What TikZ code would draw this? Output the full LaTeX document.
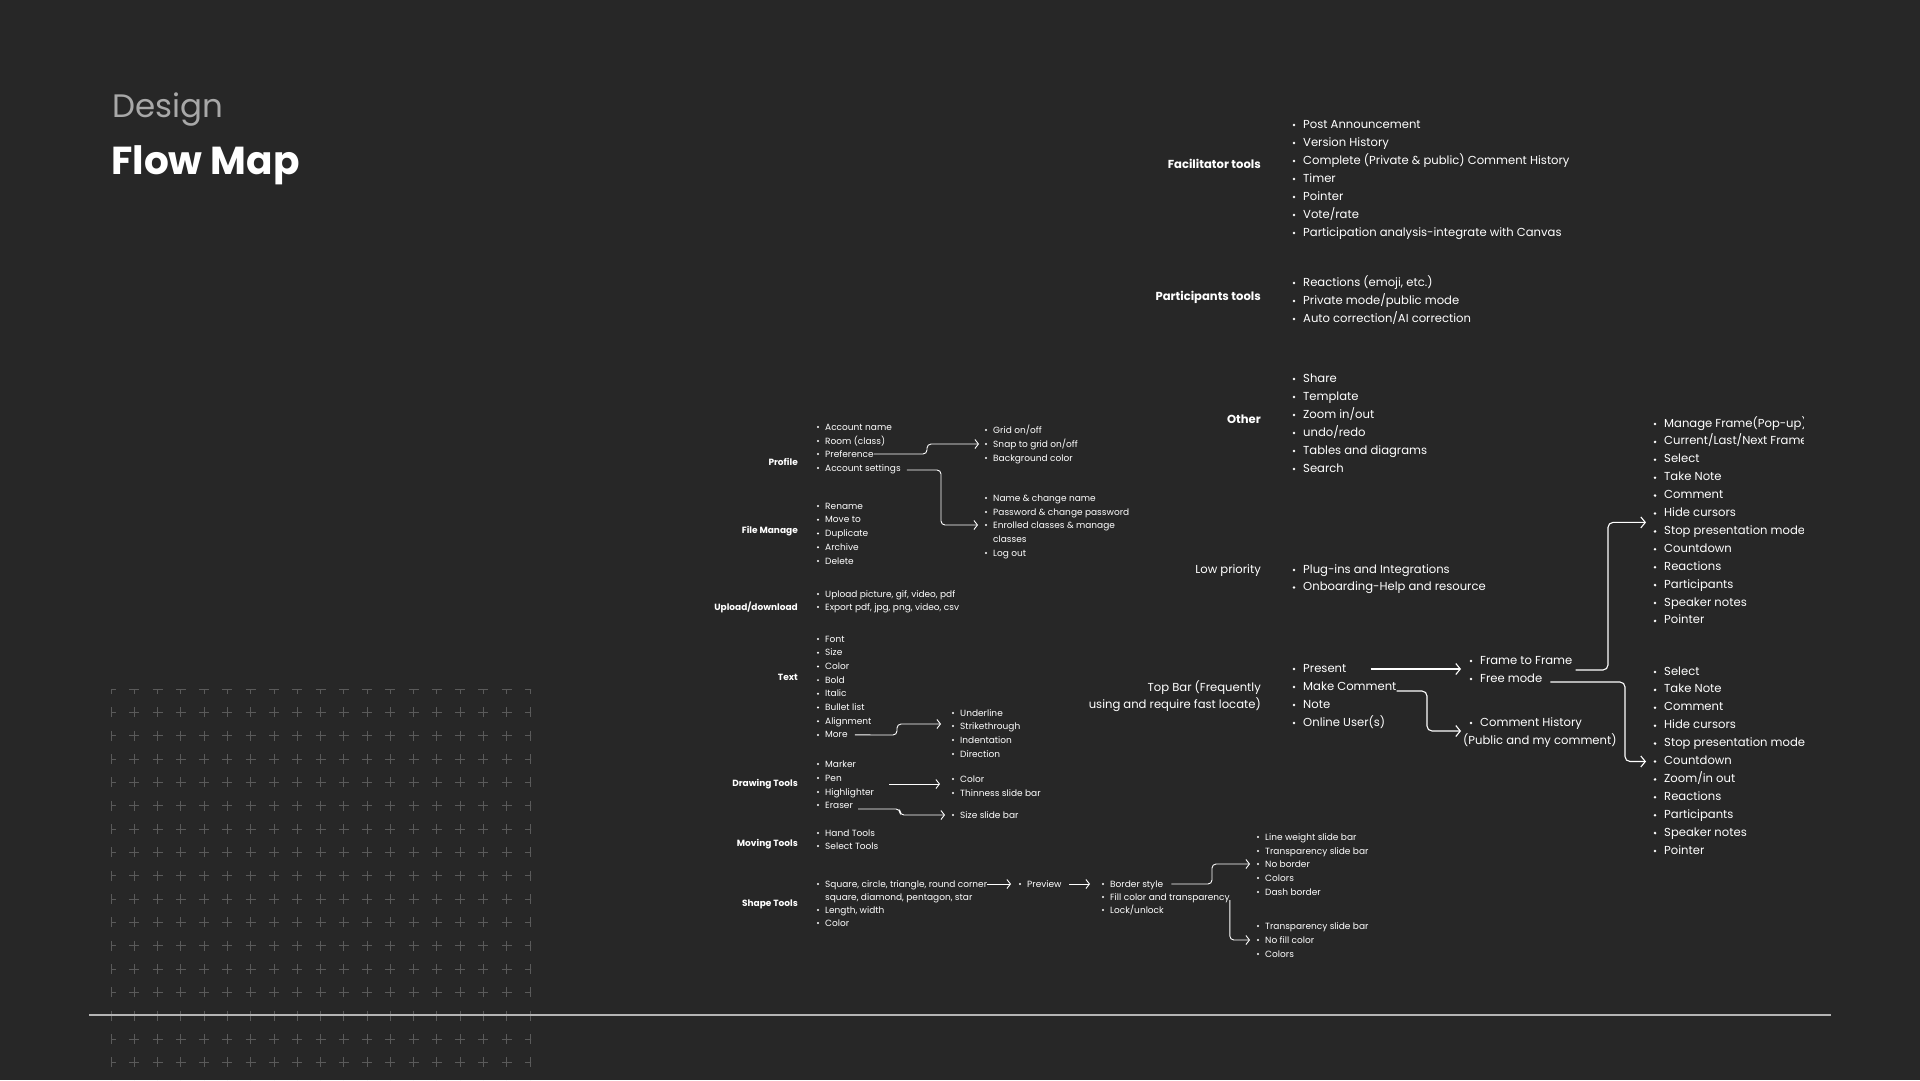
\documentclass[tikz,border=0pt]{standalone}
\usepackage{fontspec}
\setmainfont{Poppins}
\usetikzlibrary{arrows.meta}
\definecolor{bgc}{HTML}{272727}
\definecolor{gridc}{HTML}{5A5A5A}
\definecolor{designc}{HTML}{A8A8A8}
\definecolor{rulec}{HTML}{B5B5B5}
\tikzset{
  sitm/.style={font=\fontsize{9}{11}\selectfont, text=white, inner sep=0pt, text height=0.6em, text depth=0pt},
  sitmb/.style={font=\fontsize{9}{11}\selectfont\bfseries, text=white, inner sep=0pt, text height=0.6em, text depth=0pt},
  bitm/.style={font=\fontsize{11.6}{14}\selectfont, text=white, inner sep=0pt, text height=0.6em, text depth=0pt},
  bitmb/.style={font=\fontsize{11.6}{14}\selectfont\bfseries, text=white, inner sep=0pt, text height=0.6em, text depth=0pt},
  sconn/.style={draw=white, line width=0.9pt, rounded corners=4pt, -{Straight Barb[length=3.5pt,width=9pt]}},
  bconn/.style={draw=white, line width=1.1pt, rounded corners=5pt, -{Straight Barb[length=4.5pt,width=11pt]}},
  crossmark/.style={draw=gridc, line width=0.9pt}
}
% small item: name, text x, y, text
\newcommand\sItem[4]{\fill[white] (#2-7,#3) circle (1.1pt); \node[sitm,anchor=west] (#1) at (#2,#3) {#4};}
\newcommand\sLine[4]{\node[sitm,anchor=west] (#1) at (#2,#3) {#4};}
\newcommand\bItem[4]{\fill[white] (#2-9,#3) circle (1.4pt); \node[bitm,anchor=west] (#1) at (#2,#3) {#4};}
\newcommand\bLine[4]{\node[bitm,anchor=west] (#1) at (#2,#3) {#4};}
\begin{document}
\begin{tikzpicture}[x=1pt,y=-1pt]
\fill[bgc] (0,0) rectangle (1920,1080);
\useasboundingbox (0,0) rectangle (1920,1080);

% grid of crosses
\begin{scope}
  \clip (111,689) rectangle (531,1080);
  \foreach \i in {0,...,18}{
    \foreach \j in {0,...,17}{
      \draw[crossmark] (111+\i*23.28-5,689+\j*23.33) -- ++(10,0);
      \draw[crossmark] (111+\i*23.28,689+\j*23.33-5) -- ++(0,10);
    }
  }
\end{scope}
\draw[rulec, line width=1.1pt] (89,1015) -- (1831,1015);

% title
\node[anchor=base west, inner sep=0pt, font=\fontsize{32.5}{32.5}\selectfont, text=designc] (design) at (112,117) {Design};
\node[anchor=base west, inner sep=0pt, font=\fontsize{39}{39}\selectfont\bfseries, text=white] (flowmap) at (111,174) {Flow Map};

% ---------- right-hand big lists ----------
\node[bitmb,anchor=east] (facil) at (1261,165) {Facilitator tools};
\foreach \t [count=\i from 0] in {Post Announcement, Version History, Complete (Private \& public) Comment History, Timer, Pointer, Vote/rate, Participation analysis-integrate with Canvas}
  {\bItem{fac-\i}{1303}{125+18*\i}{\t}}

\node[bitmb,anchor=east] (partic) at (1261,297) {Participants tools};
\foreach \t [count=\i from 0] in {{Reactions (emoji, etc.)}, Private mode/public mode, Auto correction/AI correction}
  {\bItem{par-\i}{1303}{283+18*\i}{\t}}

\node[bitmb,anchor=east] (other) at (1261,420) {Other};
\foreach \t [count=\i from 0] in {Share, Template, Zoom in/out, undo/redo, Tables and diagrams, Search}
  {\bItem{oth-\i}{1303}{379+18*\i}{\t}}

\node[bitm,anchor=east] (lowp) at (1261,570) {Low priority};
\bItem{low-0}{1303}{570}{Plug-ins and Integrations}
\bItem{low-1}{1303}{587.5}{Onboarding-Help and resource}

\node[bitm,anchor=east] (topbar-a) at (1261,688) {Top Bar (Frequently};
\node[bitm,anchor=east] (topbar-b) at (1261,705) {using and require fast locate)};
\bItem{present}{1303}{669}{Present}
\bItem{mcomment}{1303}{687}{Make Comment}
\bItem{note}{1303}{705}{Note}
\bItem{online}{1303}{723}{Online User(s)}

\bItem{ftf}{1480}{661}{Frame to Frame}
\bItem{free}{1480}{679}{Free mode}
\bItem{chist}{1480}{723}{Comment History}
\bLine{chist2}{1463}{741}{(Public and my comment)}

\begin{scope}
  \clip (1600,400) rectangle (1803,640);
  \foreach \t [count=\i from 0] in {Manage Frame(Pop-up), Current/Last/Next Frame, Select, Take Note, Comment, Hide cursors, Stop presentation mode, Countdown, Reactions, Participants, Speaker notes, Pointer}
    {\bItem{ptop-\i}{1664}{424+17.9*\i}{\t}}
\end{scope}
\foreach \t [count=\i from 0] in {Select, Take Note, Comment, Hide cursors, Stop presentation mode, Countdown, Zoom/in out, Reactions, Participants, Speaker notes, Pointer}
  {\bItem{pbot-\i}{1664}{672+17.9*\i}{\t}}

% big connectors
\draw[bconn] ([xshift=24]present.east) -- ([xshift=-19]ftf.west |- present.east);
\draw[bconn] ([yshift=-4]mcomment.east) -- (1427,691) |- ([xshift=-19,yshift=-8]chist.west);
\draw[bconn] ([xshift=3,yshift=-9]ftf.east) -- (1608,670) |- ([xshift=-18,yshift=9]ptop-6.west);
\draw[bconn] ([xshift=8,yshift=-3]free.east) -- (1625,682) |- ([xshift=-18]pbot-5.west);

% ---------- left small lists ----------
\node[sitmb,anchor=east] (profile) at (798,462) {Profile};
\sItem{acname}{825}{427}{Account name}
\sItem{room}{825}{441}{Room (class)}
\sItem{pref}{825}{454}{Preference}
\sItem{accset}{825}{468}{Account settings}

\sItem{grid}{993}{430}{Grid on/off}
\sItem{snap}{993}{444}{Snap to grid on/off}
\sItem{bgcol}{993}{458}{Background color}

\sItem{namec}{993}{498}{Name \& change name}
\sItem{passw}{993}{512}{Password \& change password}
\sItem{enrol}{993}{525}{Enrolled classes \& manage}
\sLine{enrol2}{993}{539}{classes}
\sItem{logout}{993}{553}{Log out}

\node[sitmb,anchor=east] (filem) at (798,530) {File Manage};
\foreach \t [count=\i from 0] in {Rename, Move to, Duplicate, Archive, Delete}
  {\sItem{fm-\i}{825}{506+13.75*\i}{\t}}

\node[sitmb,anchor=east] (upl) at (798,607) {Upload/download};
\sItem{upl-0}{825}{594}{Upload picture, gif, video, pdf}
\sItem{upl-1}{825}{607}{Export pdf, jpg, png, video, csv}

\node[sitmb,anchor=east] (textl) at (798,677) {Text};
\foreach \t [count=\i from 0] in {Font, Size, Color, Bold, Italic, Bullet list, Alignment, More}
  {\sItem{tx-\i}{825}{639+13.7*\i}{\t}}

\sItem{under}{960}{713}{Underline}
\sItem{strike}{960}{726}{Strikethrough}
\sItem{indent}{960}{740}{Indentation}
\sItem{direc}{960}{754}{Direction}

\node[sitmb,anchor=east] (drawt) at (798,783) {Drawing Tools};
\sItem{marker}{825}{764}{Marker}
\sItem{pen}{825}{778}{Pen}
\sItem{highl}{825}{792}{Highlighter}
\sItem{eraser}{825}{805}{Eraser}

\sItem{dcolor}{960}{779}{Color}
\sItem{thin}{960}{793}{Thinness slide bar}
\sItem{sizebar}{960}{815}{Size slide bar}

\node[sitmb,anchor=east] (movet) at (798,843) {Moving Tools};
\sItem{hand}{825}{833}{Hand Tools}
\sItem{selt}{825}{846}{Select Tools}

\node[sitmb,anchor=east] (shapet) at (798,903) {Shape Tools};
\sItem{square}{825}{884}{Square, circle, triangle, round corner}
\sLine{square2}{825}{897}{square, diamond, pentagon, star}
\sItem{lenw}{825}{910}{Length, width}
\sItem{scolor}{825}{923}{Color}

\sItem{preview}{1027}{884}{Preview}

\sItem{border}{1110}{884}{Border style}
\sItem{fill}{1110}{897}{Fill color and transparency}
\sItem{lock}{1110}{910}{Lock/unlock}

\sItem{lwsb}{1265}{837}{Line weight slide bar}
\sItem{trsb}{1265}{851}{Transparency slide bar}
\sItem{noborder}{1265}{864}{No border}
\sItem{bcolors}{1265}{878}{Colors}
\sItem{dash}{1265}{892}{Dash border}

\sItem{trsb2}{1265}{926}{Transparency slide bar}
\sItem{nofill}{1265}{940}{No fill color}
\sItem{fcolors}{1265}{954}{Colors}

% small connectors
\coordinate (penfrom) at (889,784);
\coordinate (erfrom) at (858,809);
\draw[sconn] (pref.east) -- (927,454) |- ([xshift=-14]snap.west);
\draw[sconn] ([xshift=6,yshift=-2]accset.east) -- (941,470) |- ([xshift=-15]enrol.west);
\draw[sconn] ([xshift=7]tx-7.east) -- (897,735) |- ([xshift=-19,yshift=2]strike.west);
\draw[sconn] (penfrom) -- ([xshift=-20,yshift=-5]dcolor.west);
\draw[sconn] (erfrom) -- (900,809) |- ([xshift=-15]sizebar.west);
\draw[sconn] (square.east) -- ([xshift=-16]preview.west);
\draw[sconn] ([xshift=7]preview.east) -- ([xshift=-20]border.west);
\draw[sconn] ([xshift=8]border.east) -- (1212,884) |- ([xshift=-15]noborder.west);
\draw[sconn] ([yshift=-3]fill.east) |- ([xshift=-15]nofill.west);
\end{tikzpicture}
\end{document}
